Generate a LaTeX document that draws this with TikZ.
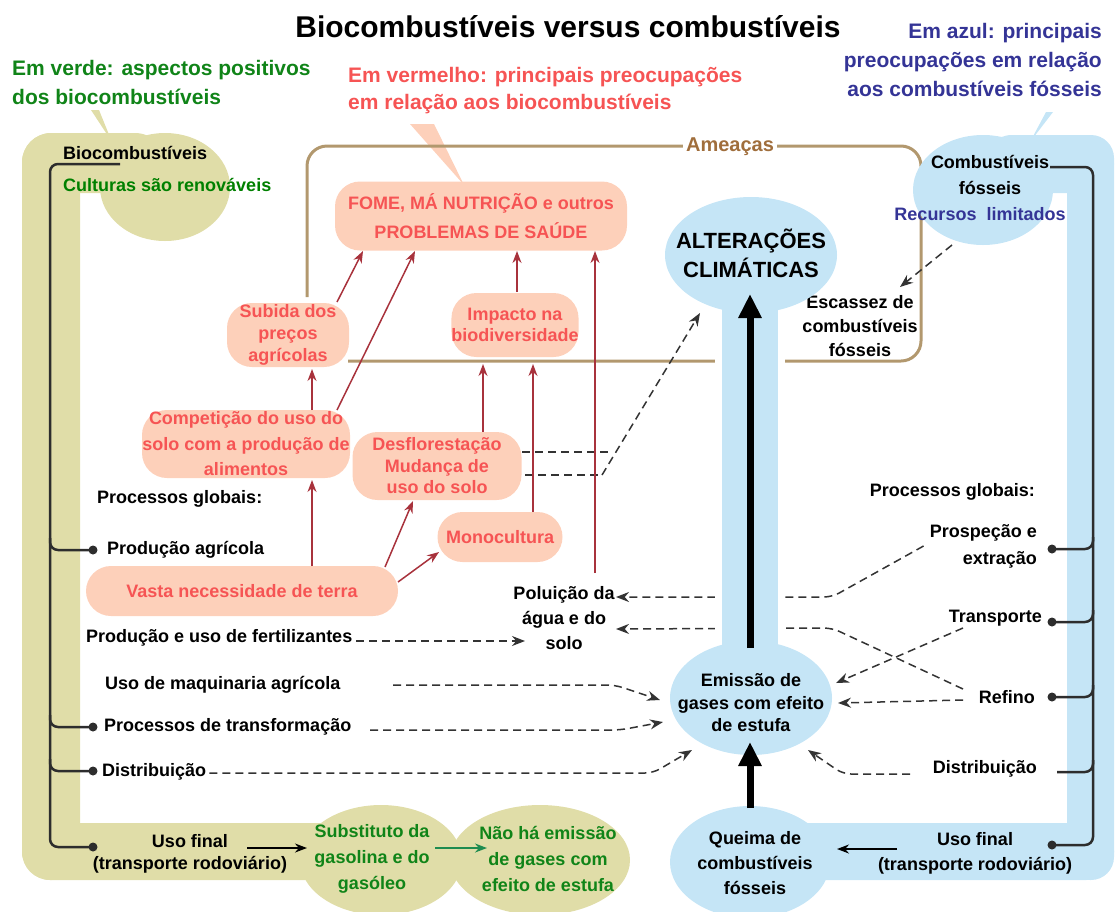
\documentclass[tikz,border=0pt]{standalone}
\usepackage{fontspec}
\setmainfont{Liberation Sans}
\usetikzlibrary{arrows.meta,shapes.geometric}
\definecolor{bandgreen}{RGB}{224,221,168}
\definecolor{bandblue}{RGB}{197,229,246}
\definecolor{peach}{RGB}{253,208,186}
\definecolor{redtxt}{RGB}{246,84,84}
\definecolor{redarrow}{RGB}{168,50,60}
\definecolor{greentxt}{RGB}{16,132,24}
\definecolor{greenarrow}{RGB}{30,140,80}
\definecolor{bluetxt}{RGB}{52,52,150}
\definecolor{brownline}{RGB}{178,152,110}
\definecolor{browntxt}{RGB}{160,110,60}
\definecolor{treeline}{RGB}{45,45,45}
\newcommand{\fsz}[2]{\fontsize{#1pt}{#2pt}\selectfont\bfseries}
\begin{document}
\begin{tikzpicture}[x=1pt,y=-1pt,
  txt/.style={font={\fsz{18}{23}}, inner sep=0pt, align=center},
  redbox/.style={fill=peach, rounded corners=25pt, inner sep=0pt, text=redtxt, align=center},
  redarr/.style={draw=redarrow, line width=1.5pt, -{Stealth[length=12pt,width=9pt]}},
  dasharr/.style={draw=black!80, line width=1.5pt, dash pattern=on 8pt off 5pt, rounded corners=8pt, -{Stealth[length=13pt,width=10pt]}},
  dashline/.style={draw=black!80, line width=1.5pt, dash pattern=on 8pt off 5pt},
  tree/.style={draw=treeline, line width=2.5pt, rounded corners=8pt},
  dot/.style={circle, fill=treeline, inner sep=0pt, minimum size=9pt},
  thinarr/.style={line width=1.6pt, -{Stealth[length=12pt,width=9pt]}},
  thickarr/.style={line width=7pt, -{Triangle[length=24pt,width=22pt]}},
  blob/.style={ellipse, inner sep=0pt},
]
\useasboundingbox (0,0) rectangle (1115,911);

% callout tails
\fill[bandgreen] (91,110) -- (99,110) -- (112,142) -- cycle;
\fill[peach] (410,124) -- (434,124) -- (464,185) -- cycle;
\fill[bandblue] (1046,112) -- (1053,112) -- (1030,142) -- cycle;

% green band
\fill[bandgreen, rounded corners=29pt] (22,133) rectangle (80,880);
\fill[bandgreen, rounded corners=30pt] (22,133) rectangle (165,193);
\fill[bandgreen, rounded corners=28pt] (22,823) rectangle (381,880);
\node[blob, fill=bandgreen, minimum width=130pt, minimum height=108pt] (gcirc) at (165,187) {};
\node[blob, fill=bandgreen, minimum width=162pt, minimum height=110pt] (substE) at (381,860) {};
\node[blob, fill=bandgreen, minimum width=180pt, minimum height=110pt] (naoE) at (540,860) {};

% brown frame
\draw[brownline, line width=3pt, rounded corners=20pt] (307,297) -- (307,146) -- (921,146) -- (921,361) -- (348,361);
\node[fill=white, inner xsep=3pt, inner ysep=0pt, text=browntxt, font={\fsz{20}{24}}] (ameacas) at (730,147) {Ameaças};

% blue band
\fill[bandblue, rounded corners=23pt] (1067,135) rectangle (1114,880);
\fill[bandblue, rounded corners=29pt] (983,135) rectangle (1114,193);
\fill[bandblue, rounded corners=28pt] (750,823) rectangle (1114,880);
\node[blob, fill=bandblue, minimum width=140pt, minimum height=110pt] (combE) at (983,190) {};
\node[blob, fill=bandblue, minimum width=160pt, minimum height=112pt] (queimaE) at (750,862) {};

% text nodes
\node[font={\fsz{30}{34}}, inner sep=0pt] (title) at (568,27) {Biocombustíveis versus combustíveis};
\node[font={\fsz{21}{29}}, text=greentxt, align=left, inner sep=0pt, anchor=west] (hdrG) at (12,82) {Em verde: aspectos positivos\\dos biocombustíveis};
\node[font={\fsz{21}{27}}, text=redtxt, align=left, inner sep=0pt, anchor=west] (hdrR) at (348,91) {Em vermelho: principais preocupações\\em relação aos biocombustíveis};
\node[font={\fsz{21}{29}}, text=bluetxt, align=right, inner sep=0pt, anchor=east] (hdrB) at (1102,60) {Em azul: principais\\preocupações em relação\\aos combustíveis fósseis};

\node[txt, anchor=west] (bio) at (63,153) {Biocombustíveis};
\node[txt, anchor=west, text=green!50!black] (cult) at (63,185) {Culturas são renováveis};
\node[txt, font={\fsz{18}{26}}] (comb) at (990,175) {Combustíveis\\fósseis};
\node[txt, text=bluetxt] (recursos) at (980,214) {Recursos~ limitados};
\node[txt, font={\fsz{18}{24}}] (escassez) at (860,326) {Escassez de\\combustíveis\\fósseis};

\node[txt, anchor=west] (procL) at (97,499) {Processos globais:};
\node[txt, anchor=west] (prodagr) at (107,550) {Produção agrícola};
\node[txt, anchor=west] (fert) at (86,638) {Produção e uso de fertilizantes};
\node[txt, anchor=west] (maq) at (105,685) {Uso de maquinaria agrícola};
\node[txt, anchor=west] (transf) at (104,727) {Processos de transformação};
\node[txt, anchor=west] (distL) at (102,772) {Distribuição};
\node[txt, font={\fsz{18}{22}}] (usoL) at (190,854) {Uso final\\(transporte rodoviário)};
\node[txt, font={\fsz{18}{26}}, text=greentxt] (subst) at (372,859) {Substituto da\\gasolina e do\\gasóleo};
\node[txt, font={\fsz{18}{26}}, text=greentxt] (naoha) at (548,859) {Não há emissão\\de gases com\\efeito de estufa};
\node[txt, font={\fsz{18}{25}}] (polu) at (564,618) {Poluição da\\água e do\\solo};

\node[txt, anchor=east] (procR) at (1035,492) {Processos globais:};
\node[txt, anchor=east, align=right, font={\fsz{18}{27}}] (prosp) at (1037,546) {Prospeção e\\extração};
\node[txt, anchor=east] (transp) at (1042,618) {Transporte};
\node[txt, anchor=east] (refino) at (1035,697) {Refino};
\node[txt, anchor=east] (distR) at (1037,769) {Distribuição};
\node[txt, font={\fsz{18}{25}}] (usoR) at (975,853) {Uso final\\(transporte rodoviário)};
\node[txt, font={\fsz{18}{25}}] (queima) at (755,863) {Queima de\\combustíveis\\fósseis};

% dashed arrows (under the central column)
\draw[dasharr] (602,475) -- (700,313);
\draw[dashline] (525,475) -- (602,475);
\draw[dashline] (522,452) -- (612,452);
\draw[dasharr] (fert.east) ++(4,3) -- (525,641);
\draw[dasharr] (prosp.west) ++(-6,0) -- (832,597) -- (616,597);
\draw[dasharr] (963,689) -- (832,628) -- (616,629);
\draw[dasharr] (963,628) -- (836,683);
\draw[dasharr] (963,700) -- (838,703);
\draw[dasharr] (910,774) -- (843,774) -- (808,750);
\draw[dasharr] (393,685) -- (615,685) -- (660,700);
\draw[dasharr] (370,730) -- (620,730) -- (663,722);
\draw[dasharr] (distL.east) ++(3,1) -- (653,773) -- (692,750);
\draw[dasharr] (952,245) -- (900,287);

% central column
\fill[white] (715,300) rectangle (785,655);
\fill[bandblue] (722,290) rectangle (778,665);
\node[blob, fill=bandblue, minimum width=172pt, minimum height=116pt] (alterE) at (751,255) {};
\node[blob, fill=bandblue, minimum width=162pt, minimum height=114pt] (emisE) at (751,698) {};
\node[txt, font={\fsz{22}{29}}] (alter) at (751,253) {ALTERAÇÕES\\CLIMÁTICAS};
\node[txt, font={\fsz{18}{22.5}}] (emis) at (751,703) {Emissão de\\gases com efeito\\de estufa};
\draw[thickarr] (750,648) -- (750,294);
\draw[thickarr] (750,808) -- (750,742);

% red boxes
\node[redbox, font={\fsz{18}{29}}, minimum width=292pt, minimum height=69pt] (fome) at (481,216) {FOME, MÁ NUTRIÇÃO e outros\\PROBLEMAS DE SAÚDE};
\node[redbox, font={\fsz{18}{22}}, minimum width=122pt, minimum height=64pt] (subida) at (288,335) {Subida dos\\preços\\agrícolas};
\node[redbox, font={\fsz{18}{21}}, minimum width=126pt, minimum height=64pt] (impacto) at (515,325) {Impacto na\\biodiversidade};
\node[redbox, font={\fsz{18}{25.5}}, minimum width=208pt, minimum height=68pt] (compet) at (246,444) {Competição do uso do\\solo com a produção de\\alimentos};
\node[redbox, font={\fsz{18}{21.5}}, minimum width=169pt, minimum height=68pt] (desflo) at (437,466) {Desflorestação\\Mudança de\\uso do solo};
\node[redbox, font={\fsz{18}{22}}, minimum width=125pt, minimum height=50pt] (mono) at (500,537) {Monocultura};
\node[redbox, font={\fsz{18}{22}}, minimum width=312pt, minimum height=50pt] (vasta) at (242,591) {Vasta necessidade de terra};

% red arrows
\draw[redarr] (337,302) -- (363,251);
\draw[redarr] (337,410) -- (415,251);
\draw[redarr] (517,292) -- (517,251);
\draw[redarr] (595,573) -- (595,251);
\draw[redarr] (312,410) -- (312,369);
\draw[redarr] (312,566) -- (312,480);
\draw[redarr] (385,567) -- (413,501);
\draw[redarr] (398,582) -- (439,552);
\draw[redarr] (483,432) -- (483,364);
\draw[redarr] (533,512) -- (533,364);

% thin arrows at bottom
\draw[thinarr] (247,848) -- (307,848);
\draw[thinarr, greenarrow] (435,848) -- (487,848);
\draw[thinarr] (897,849) -- (837,849);

% left tree
\node[dot] (dLpa) at (93,550) {};
\node[dot] (dLtr) at (93,727) {};
\node[dot] (dLdi) at (93,771) {};
\node[dot] (dLuf) at (93,847) {};
\draw[tree] (120,164) -- (50,164) -- (50,847) -- (dLuf.center);
\draw[tree] (50,538) -- (50,550) -- (dLpa.center);
\draw[tree] (50,715) -- (50,727) -- (dLtr.center);
\draw[tree] (50,759) -- (50,771) -- (dLdi.center);

% right tree
\node[dot] (dRpr) at (1052,549) {};
\node[dot] (dRtr) at (1052,622) {};
\node[dot] (dRre) at (1052,697) {};
\node[dot] (dRuf) at (1052,845) {};
\coordinate (dRdi) at (1057,772);
\draw[tree] (1050,167) -- (1093,167) -- (1093,845) -- (dRuf.center);
\draw[tree] (1093,537) -- (1093,549) -- (dRpr.center);
\draw[tree] (1093,610) -- (1093,622) -- (dRtr.center);
\draw[tree] (1093,685) -- (1093,697) -- (dRre.center);
\draw[tree] (1093,760) -- (1093,772) -- (dRdi);
\end{tikzpicture}
\end{document}
